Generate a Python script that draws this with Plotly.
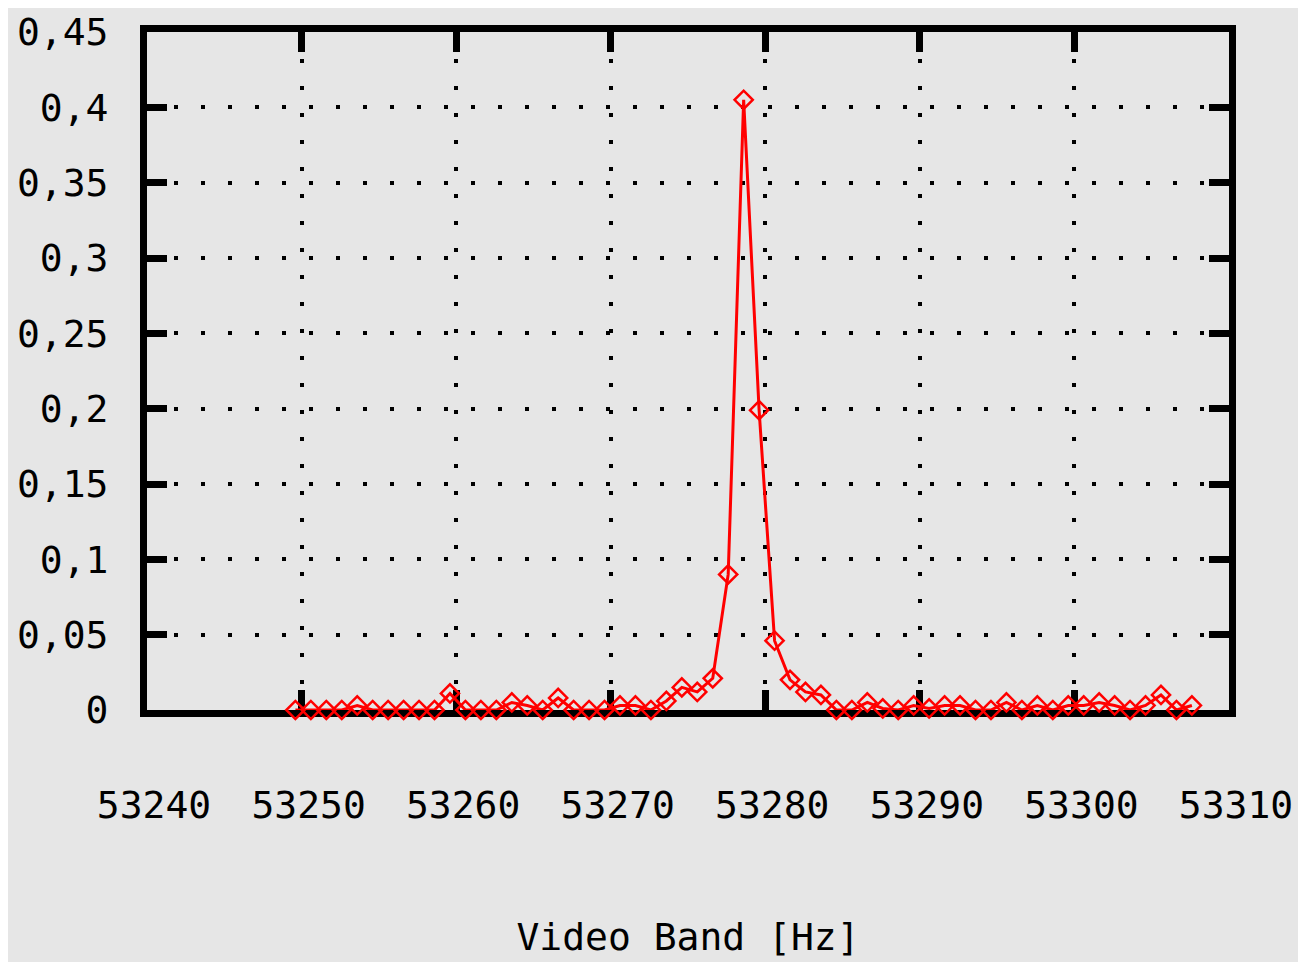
import plotly.graph_objects as go

freq_hz = [53249.6, 53250.6, 53251.6, 53252.6, 53253.6, 53254.6, 53255.6, 53256.6, 53257.6, 53258.6,
           53259.6, 53260.6, 53261.6, 53262.6, 53263.6, 53264.6, 53265.6, 53266.6, 53267.6, 53268.6,
           53269.6, 53270.6, 53271.6, 53272.6, 53273.6, 53274.6, 53275.6, 53276.6, 53277.6, 53278.6,
           53279.6, 53280.6, 53281.6, 53282.6, 53283.6, 53284.6, 53285.6, 53286.6, 53287.6, 53288.6,
           53289.6, 53290.6, 53291.6, 53292.6, 53293.6, 53294.6, 53295.6, 53296.6, 53297.6, 53298.6,
           53299.6, 53300.6, 53301.6, 53302.6, 53303.6, 53304.6, 53305.6, 53306.6, 53307.6]

amplitude = [0.0, 0.0, 0.0, 0.0, 0.003, 0.0, 0.0, 0.0, 0.0, 0.0,
             0.011, 0.0, 0.0, 0.0, 0.005, 0.003, 0.0, 0.008, 0.0, 0.0,
             0.0, 0.003, 0.003, 0.0, 0.006, 0.015, 0.012, 0.021, 0.09, 0.405,
             0.199, 0.046, 0.02, 0.012, 0.010, 0.0, 0.0, 0.005, 0.001, 0.0,
             0.003, 0.001, 0.003, 0.003, 0.0, 0.0, 0.005, 0.0, 0.003, 0.0,
             0.003, 0.003, 0.005, 0.003, 0.0, 0.003, 0.010, 0.0, 0.003]

x_ticks = [53240, 53250, 53260, 53270, 53280, 53290, 53300, 53310]
x_tick_labels = ["53240", "53250", "53260", "53270", "53280", "53290", "53300", "53310"]
y_ticks = [0, 0.05, 0.1, 0.15, 0.2, 0.25, 0.3, 0.35, 0.4, 0.45]
y_tick_labels = ["0", "0,05", "0,1", "0,15", "0,2", "0,25", "0,3", "0,35", "0,4", "0,45"]

BG = "#e6e6e6"
FONT = "DejaVu Sans Mono"
FS = 38

fig = go.Figure()
fig.add_trace(go.Scatter(
    x=freq_hz, y=amplitude, mode="lines+markers",
    line=dict(color="#ff0000", width=3),
    marker=dict(symbol="diamond-open", size=14, color="#ff0000", line=dict(width=2.5, color="#ff0000")),
    cliponaxis=False, showlegend=False,
))

fig.update_layout(
    width=1298, height=954,
    paper_bgcolor=BG, plot_bgcolor=BG,
    margin=dict(l=138.5, r=77, t=24, b=251.5, autoexpand=False),
    font=dict(family=FONT, size=FS, color="black"),
)

fig.update_xaxes(
    range=[53240, 53310], tickvals=x_ticks, ticktext=x_tick_labels,
    showline=True, linecolor="black", linewidth=7, mirror="ticks",
    ticks="inside", ticklen=20, tickwidth=7, tickcolor="black",
    showgrid=True, gridcolor="black", gridwidth=4, griddash="4px,23px",
    zeroline=False, layer="below traces", automargin=False,
    ticklabeloverflow="allow",
    ticklabelstandoff=55, ticklabelshift=7,
    title=dict(text="Video Band [Hz]", standoff=100, font=dict(family=FONT, size=FS)),
    tickfont=dict(family=FONT, size=FS),
)
fig.update_yaxes(
    range=[0, 0.45], tickvals=y_ticks, ticktext=y_tick_labels,
    showline=True, linecolor="black", linewidth=7, mirror="ticks",
    ticks="inside", ticklen=20, tickwidth=7, tickcolor="black",
    showgrid=True, gridcolor="black", gridwidth=4, griddash="4px,23px",
    zeroline=False, layer="below traces", automargin=False,
    ticklabeloverflow="allow",
    ticklabelstandoff=24,
    tickfont=dict(family=FONT, size=FS),
)

fig.write_html("out.html")
